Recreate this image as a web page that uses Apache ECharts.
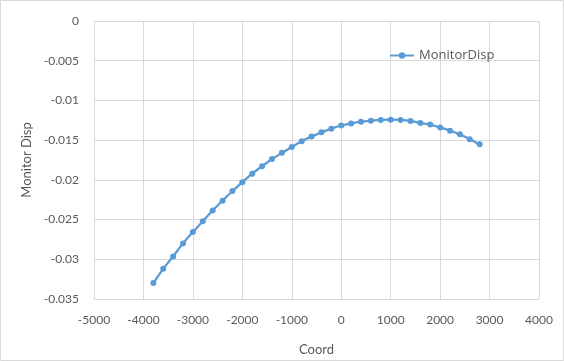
<!DOCTYPE html>
<html><head><meta charset="utf-8">
<script src="https://cdn.jsdelivr.net/npm/echarts@6/dist/echarts.min.js"></script>
<style>html,body{margin:0;padding:0;background:#fff}#c{width:564px;height:361px}</style>
</head><body><div id="c"></div>
<script>
const coords = [-3800,-3600,-3400,-3200,-3000,-2800,-2600,-2400,-2200,-2000,-1800,-1600,-1400,-1200,-1000,-800,-600,-400,-200,0,200,400,600,800,1000,1200,1400,1600,1800,2000,2200,2400,2600,2800];
const monitorDisp = [-0.0330,-0.0312,-0.02964,-0.0280,-0.02657,-0.02521,-0.02386,-0.02263,-0.0214,-0.0203,-0.01922,-0.01828,-0.01738,-0.0166,-0.01587,-0.01513,-0.01455,-0.01402,-0.01355,-0.01316,-0.0129,-0.01267,-0.01255,-0.01246,-0.01242,-0.01246,-0.01258,-0.01283,-0.01304,-0.0134,-0.01381,-0.01427,-0.01488,-0.01553];
const seriesName = 'MonitorDisp';
const xTitle = 'Coord';
const yTitle = 'Monitor Disp';

const font = 'Lato, "Open Sans", sans-serif';
const chart = echarts.init(document.getElementById('c'), null, {renderer: 'canvas'});
chart.setOption({
  animation: false,
  backgroundColor: '#fff',
  graphic: [{type: 'rect', shape: {x: 0.5, y: 0.5, width: 563, height: 360}, style: {fill: 'none', stroke: '#d9d9d9', lineWidth: 1}, silent: true}],
  grid: {left: 94, right: 25, top: 21, bottom: 56},
  legend: {
    left: 384, top: 44, itemWidth: 24, itemHeight: 8, itemGap: 4,
    textStyle: {fontFamily: '"Open Sans", sans-serif', fontSize: 13, color: '#595959'},
    data: [seriesName]
  },
  xAxis: {
    type: 'value', min: -5000, max: 4000, interval: 1000,
    name: xTitle, nameLocation: 'middle', nameGap: 44,
    nameTextStyle: {fontFamily: font, fontSize: 13, color: '#595959'},
    axisLine: {show: false}, axisTick: {show: false},
    axisLabel: {fontFamily: font, fontSize: 12, color: '#595959', margin: 15,
      formatter: v => String(v)},
    splitLine: {show: true, lineStyle: {color: '#d9d9d9', width: 1}}
  },
  yAxis: {
    type: 'value', min: -0.035, max: 0, interval: 0.005,
    name: yTitle, nameLocation: 'middle', nameGap: 60,
    nameTextStyle: {fontFamily: font, fontSize: 13, color: '#595959'},
    axisLine: {show: false}, axisTick: {show: false},
    axisLabel: {fontFamily: font, fontSize: 12, color: '#595959', margin: 15,
      formatter: v => String(Math.round(v * 1000) / 1000)},
    splitLine: {show: true, lineStyle: {color: '#d9d9d9', width: 1}}
  },
  series: [{
    name: seriesName, type: 'line', smooth: 0.3,
    data: coords.map((c, i) => [c, monitorDisp[i]]),
    symbol: 'circle', symbolSize: 6, showSymbol: true,
    lineStyle: {color: '#5b9bd5', width: 2.25},
    itemStyle: {color: '#5b9bd5'}
  }]
});
</script></body></html>
